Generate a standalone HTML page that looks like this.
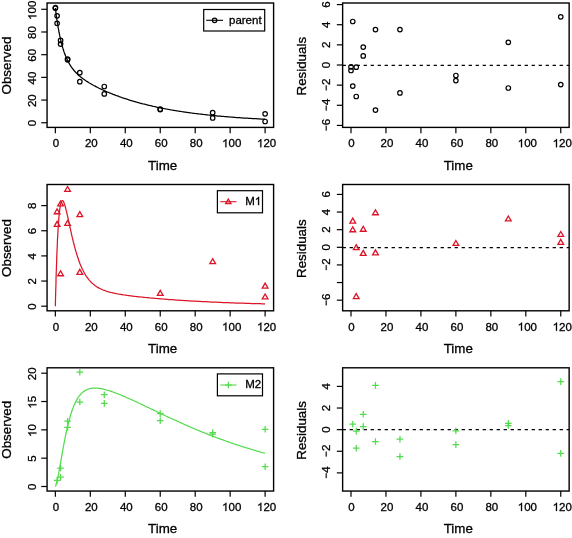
<!DOCTYPE html>
<html><head><meta charset="utf-8"><style>
html,body{margin:0;padding:0;background:#fff;}
svg{display:block;will-change:transform;} text{stroke:#000;stroke-width:0.3px;}
</style></head><body>
<svg width="572" height="538" viewBox="0 0 572 538" font-family="Liberation Sans, sans-serif" fill="#000">
<rect width="572" height="538" fill="#fff"/>
<rect x="47.06" y="3" width="226.54" height="124.4" fill="none" stroke="#000" stroke-width="1.4"/>
<line x1="55.35" y1="127.4" x2="55.35" y2="133.2" stroke="#000" stroke-width="1.2"/>
<g transform="translate(55.86,147.3)"><text x="-3.20" y="0" font-size="11.5">0</text></g>
<line x1="90.31" y1="127.4" x2="90.31" y2="133.2" stroke="#000" stroke-width="1.2"/>
<g transform="translate(91.33,147.3)"><text x="-6.40" y="0" font-size="11.5">20</text></g>
<line x1="125.27" y1="127.4" x2="125.27" y2="133.2" stroke="#000" stroke-width="1.2"/>
<g transform="translate(126.29,147.3)"><text x="-6.40" y="0" font-size="11.5">40</text></g>
<line x1="160.23" y1="127.4" x2="160.23" y2="133.2" stroke="#000" stroke-width="1.2"/>
<g transform="translate(161.25,147.3)"><text x="-6.40" y="0" font-size="11.5">60</text></g>
<line x1="195.19" y1="127.4" x2="195.19" y2="133.2" stroke="#000" stroke-width="1.2"/>
<g transform="translate(196.21,147.3)"><text x="-6.40" y="0" font-size="11.5">80</text></g>
<line x1="230.15" y1="127.4" x2="230.15" y2="133.2" stroke="#000" stroke-width="1.2"/>
<g transform="translate(231.68,147.3)"><path transform="translate(-9.59,0) scale(0.00562,-0.00562)" d="M763 0H583V1147Q518 1085 410 1023Q307 961 213 926V1100Q381 1179 515 1300Q650 1420 704 1466H763Z" stroke="#000" stroke-width="53.4"/><text x="-3.20" y="0" font-size="11.5">00</text></g>
<line x1="265.11" y1="127.4" x2="265.11" y2="133.2" stroke="#000" stroke-width="1.2"/>
<g transform="translate(266.64,147.3)"><path transform="translate(-9.59,0) scale(0.00562,-0.00562)" d="M763 0H583V1147Q518 1085 410 1023Q307 961 213 926V1100Q381 1179 515 1300Q650 1420 704 1466H763Z" stroke="#000" stroke-width="53.4"/><text x="-3.20" y="0" font-size="11.5">20</text></g>
<line x1="41.26" y1="122.75" x2="47.06" y2="122.75" stroke="#000" stroke-width="1.2"/>
<g transform="translate(36.36,123.07) rotate(-90)"><text x="-3.20" y="0" font-size="11.5">0</text></g>
<line x1="41.26" y1="100.06" x2="47.06" y2="100.06" stroke="#000" stroke-width="1.2"/>
<g transform="translate(36.36,100.7) rotate(-90)"><text x="-6.40" y="0" font-size="11.5">20</text></g>
<line x1="41.26" y1="77.37" x2="47.06" y2="77.37" stroke="#000" stroke-width="1.2"/>
<g transform="translate(36.36,78.01) rotate(-90)"><text x="-6.40" y="0" font-size="11.5">40</text></g>
<line x1="41.26" y1="54.68" x2="47.06" y2="54.68" stroke="#000" stroke-width="1.2"/>
<g transform="translate(36.36,55.32) rotate(-90)"><text x="-6.40" y="0" font-size="11.5">60</text></g>
<line x1="41.26" y1="31.99" x2="47.06" y2="31.99" stroke="#000" stroke-width="1.2"/>
<g transform="translate(36.36,32.63) rotate(-90)"><text x="-6.40" y="0" font-size="11.5">80</text></g>
<line x1="41.26" y1="9.3" x2="47.06" y2="9.3" stroke="#000" stroke-width="1.2"/>
<g transform="translate(36.36,10.26) rotate(-90)"><path transform="translate(-9.59,0) scale(0.00562,-0.00562)" d="M763 0H583V1147Q518 1085 410 1023Q307 961 213 926V1100Q381 1179 515 1300Q650 1420 704 1466H763Z" stroke="#000" stroke-width="53.4"/><text x="-3.20" y="0" font-size="11.5">00</text></g>
<text x="162.7" y="169.7" text-anchor="middle" font-size="13.35">Time</text>
<text transform="translate(11.21,65.55) rotate(-90)" text-anchor="middle" font-size="13.35">Observed</text>
<rect x="342.63" y="3" width="226.51" height="124.4" fill="none" stroke="#000" stroke-width="1.4"/>
<line x1="351" y1="127.4" x2="351" y2="133.2" stroke="#000" stroke-width="1.2"/>
<g transform="translate(351.51,147.3)"><text x="-3.20" y="0" font-size="11.5">0</text></g>
<line x1="385.96" y1="127.4" x2="385.96" y2="133.2" stroke="#000" stroke-width="1.2"/>
<g transform="translate(386.98,147.3)"><text x="-6.40" y="0" font-size="11.5">20</text></g>
<line x1="420.92" y1="127.4" x2="420.92" y2="133.2" stroke="#000" stroke-width="1.2"/>
<g transform="translate(421.94,147.3)"><text x="-6.40" y="0" font-size="11.5">40</text></g>
<line x1="455.88" y1="127.4" x2="455.88" y2="133.2" stroke="#000" stroke-width="1.2"/>
<g transform="translate(456.9,147.3)"><text x="-6.40" y="0" font-size="11.5">60</text></g>
<line x1="490.84" y1="127.4" x2="490.84" y2="133.2" stroke="#000" stroke-width="1.2"/>
<g transform="translate(491.86,147.3)"><text x="-6.40" y="0" font-size="11.5">80</text></g>
<line x1="525.8" y1="127.4" x2="525.8" y2="133.2" stroke="#000" stroke-width="1.2"/>
<g transform="translate(527.33,147.3)"><path transform="translate(-9.59,0) scale(0.00562,-0.00562)" d="M763 0H583V1147Q518 1085 410 1023Q307 961 213 926V1100Q381 1179 515 1300Q650 1420 704 1466H763Z" stroke="#000" stroke-width="53.4"/><text x="-3.20" y="0" font-size="11.5">00</text></g>
<line x1="560.76" y1="127.4" x2="560.76" y2="133.2" stroke="#000" stroke-width="1.2"/>
<g transform="translate(562.29,147.3)"><path transform="translate(-9.59,0) scale(0.00562,-0.00562)" d="M763 0H583V1147Q518 1085 410 1023Q307 961 213 926V1100Q381 1179 515 1300Q650 1420 704 1466H763Z" stroke="#000" stroke-width="53.4"/><text x="-3.20" y="0" font-size="11.5">20</text></g>
<line x1="336.83" y1="125.42" x2="342.63" y2="125.42" stroke="#000" stroke-width="1.2"/>
<g transform="translate(330.03,125.42) rotate(-90)"><path transform="translate(-6.56,0) scale(0.00562,-0.00562)" d="M256 608H1096V754H256Z" stroke="#000" stroke-width="53.4"/><text x="0.16" y="0" font-size="11.5">6</text></g>
<line x1="336.83" y1="105.28" x2="342.63" y2="105.28" stroke="#000" stroke-width="1.2"/>
<g transform="translate(330.03,105.28) rotate(-90)"><path transform="translate(-6.56,0) scale(0.00562,-0.00562)" d="M256 608H1096V754H256Z" stroke="#000" stroke-width="53.4"/><text x="0.16" y="0" font-size="11.5">4</text></g>
<line x1="336.83" y1="85.14" x2="342.63" y2="85.14" stroke="#000" stroke-width="1.2"/>
<g transform="translate(330.03,85.14) rotate(-90)"><path transform="translate(-6.56,0) scale(0.00562,-0.00562)" d="M256 608H1096V754H256Z" stroke="#000" stroke-width="53.4"/><text x="0.16" y="0" font-size="11.5">2</text></g>
<line x1="336.83" y1="65" x2="342.63" y2="65" stroke="#000" stroke-width="1.2"/>
<g transform="translate(330.03,65) rotate(-90)"><text x="-3.20" y="0" font-size="11.5">0</text></g>
<line x1="336.83" y1="44.86" x2="342.63" y2="44.86" stroke="#000" stroke-width="1.2"/>
<g transform="translate(330.03,44.86) rotate(-90)"><text x="-3.20" y="0" font-size="11.5">2</text></g>
<line x1="336.83" y1="24.72" x2="342.63" y2="24.72" stroke="#000" stroke-width="1.2"/>
<g transform="translate(330.03,24.72) rotate(-90)"><text x="-3.20" y="0" font-size="11.5">4</text></g>
<line x1="336.83" y1="4.58" x2="342.63" y2="4.58" stroke="#000" stroke-width="1.2"/>
<g transform="translate(330.03,4.58) rotate(-90)"><text x="-3.20" y="0" font-size="11.5">6</text></g>
<text x="458.26" y="169.7" text-anchor="middle" font-size="13.35">Time</text>
<text transform="translate(305.93,66.2) rotate(-90)" text-anchor="middle" font-size="13.35">Residuals</text>
<line x1="342.63" y1="65.35" x2="569.14" y2="65.35" stroke="#000" stroke-width="1.25" stroke-dasharray="3.3 3.7"/>
<rect x="47.06" y="184.5" width="226.54" height="126.3" fill="none" stroke="#000" stroke-width="1.4"/>
<line x1="55.35" y1="310.8" x2="55.35" y2="316.6" stroke="#000" stroke-width="1.2"/>
<g transform="translate(55.86,330.7)"><text x="-3.20" y="0" font-size="11.5">0</text></g>
<line x1="90.31" y1="310.8" x2="90.31" y2="316.6" stroke="#000" stroke-width="1.2"/>
<g transform="translate(91.33,330.7)"><text x="-6.40" y="0" font-size="11.5">20</text></g>
<line x1="125.27" y1="310.8" x2="125.27" y2="316.6" stroke="#000" stroke-width="1.2"/>
<g transform="translate(126.29,330.7)"><text x="-6.40" y="0" font-size="11.5">40</text></g>
<line x1="160.23" y1="310.8" x2="160.23" y2="316.6" stroke="#000" stroke-width="1.2"/>
<g transform="translate(161.25,330.7)"><text x="-6.40" y="0" font-size="11.5">60</text></g>
<line x1="195.19" y1="310.8" x2="195.19" y2="316.6" stroke="#000" stroke-width="1.2"/>
<g transform="translate(196.21,330.7)"><text x="-6.40" y="0" font-size="11.5">80</text></g>
<line x1="230.15" y1="310.8" x2="230.15" y2="316.6" stroke="#000" stroke-width="1.2"/>
<g transform="translate(231.68,330.7)"><path transform="translate(-9.59,0) scale(0.00562,-0.00562)" d="M763 0H583V1147Q518 1085 410 1023Q307 961 213 926V1100Q381 1179 515 1300Q650 1420 704 1466H763Z" stroke="#000" stroke-width="53.4"/><text x="-3.20" y="0" font-size="11.5">00</text></g>
<line x1="265.11" y1="310.8" x2="265.11" y2="316.6" stroke="#000" stroke-width="1.2"/>
<g transform="translate(266.64,330.7)"><path transform="translate(-9.59,0) scale(0.00562,-0.00562)" d="M763 0H583V1147Q518 1085 410 1023Q307 961 213 926V1100Q381 1179 515 1300Q650 1420 704 1466H763Z" stroke="#000" stroke-width="53.4"/><text x="-3.20" y="0" font-size="11.5">20</text></g>
<line x1="41.26" y1="306.2" x2="47.06" y2="306.2" stroke="#000" stroke-width="1.2"/>
<g transform="translate(36.36,306.52) rotate(-90)"><text x="-3.20" y="0" font-size="11.5">0</text></g>
<line x1="41.26" y1="281.05" x2="47.06" y2="281.05" stroke="#000" stroke-width="1.2"/>
<g transform="translate(36.36,281.37) rotate(-90)"><text x="-3.20" y="0" font-size="11.5">2</text></g>
<line x1="41.26" y1="255.9" x2="47.06" y2="255.9" stroke="#000" stroke-width="1.2"/>
<g transform="translate(36.36,256.22) rotate(-90)"><text x="-3.20" y="0" font-size="11.5">4</text></g>
<line x1="41.26" y1="230.75" x2="47.06" y2="230.75" stroke="#000" stroke-width="1.2"/>
<g transform="translate(36.36,231.07) rotate(-90)"><text x="-3.20" y="0" font-size="11.5">6</text></g>
<line x1="41.26" y1="205.6" x2="47.06" y2="205.6" stroke="#000" stroke-width="1.2"/>
<g transform="translate(36.36,205.92) rotate(-90)"><text x="-3.20" y="0" font-size="11.5">8</text></g>
<text x="162.7" y="353.1" text-anchor="middle" font-size="13.35">Time</text>
<text transform="translate(11.21,248) rotate(-90)" text-anchor="middle" font-size="13.35">Observed</text>
<rect x="342.63" y="184.5" width="226.51" height="126.3" fill="none" stroke="#000" stroke-width="1.4"/>
<line x1="351" y1="310.8" x2="351" y2="316.6" stroke="#000" stroke-width="1.2"/>
<g transform="translate(351.51,330.7)"><text x="-3.20" y="0" font-size="11.5">0</text></g>
<line x1="385.96" y1="310.8" x2="385.96" y2="316.6" stroke="#000" stroke-width="1.2"/>
<g transform="translate(386.98,330.7)"><text x="-6.40" y="0" font-size="11.5">20</text></g>
<line x1="420.92" y1="310.8" x2="420.92" y2="316.6" stroke="#000" stroke-width="1.2"/>
<g transform="translate(421.94,330.7)"><text x="-6.40" y="0" font-size="11.5">40</text></g>
<line x1="455.88" y1="310.8" x2="455.88" y2="316.6" stroke="#000" stroke-width="1.2"/>
<g transform="translate(456.9,330.7)"><text x="-6.40" y="0" font-size="11.5">60</text></g>
<line x1="490.84" y1="310.8" x2="490.84" y2="316.6" stroke="#000" stroke-width="1.2"/>
<g transform="translate(491.86,330.7)"><text x="-6.40" y="0" font-size="11.5">80</text></g>
<line x1="525.8" y1="310.8" x2="525.8" y2="316.6" stroke="#000" stroke-width="1.2"/>
<g transform="translate(527.33,330.7)"><path transform="translate(-9.59,0) scale(0.00562,-0.00562)" d="M763 0H583V1147Q518 1085 410 1023Q307 961 213 926V1100Q381 1179 515 1300Q650 1420 704 1466H763Z" stroke="#000" stroke-width="53.4"/><text x="-3.20" y="0" font-size="11.5">00</text></g>
<line x1="560.76" y1="310.8" x2="560.76" y2="316.6" stroke="#000" stroke-width="1.2"/>
<g transform="translate(562.29,330.7)"><path transform="translate(-9.59,0) scale(0.00562,-0.00562)" d="M763 0H583V1147Q518 1085 410 1023Q307 961 213 926V1100Q381 1179 515 1300Q650 1420 704 1466H763Z" stroke="#000" stroke-width="53.4"/><text x="-3.20" y="0" font-size="11.5">20</text></g>
<line x1="336.83" y1="300.18" x2="342.63" y2="300.18" stroke="#000" stroke-width="1.2"/>
<g transform="translate(330.03,300.18) rotate(-90)"><path transform="translate(-6.56,0) scale(0.00562,-0.00562)" d="M256 608H1096V754H256Z" stroke="#000" stroke-width="53.4"/><text x="0.16" y="0" font-size="11.5">6</text></g>
<line x1="336.83" y1="282.55" x2="342.63" y2="282.55" stroke="#000" stroke-width="1.2"/>
<line x1="336.83" y1="264.93" x2="342.63" y2="264.93" stroke="#000" stroke-width="1.2"/>
<g transform="translate(330.03,264.93) rotate(-90)"><path transform="translate(-6.56,0) scale(0.00562,-0.00562)" d="M256 608H1096V754H256Z" stroke="#000" stroke-width="53.4"/><text x="0.16" y="0" font-size="11.5">2</text></g>
<line x1="336.83" y1="247.3" x2="342.63" y2="247.3" stroke="#000" stroke-width="1.2"/>
<g transform="translate(330.03,247.3) rotate(-90)"><text x="-3.20" y="0" font-size="11.5">0</text></g>
<line x1="336.83" y1="229.67" x2="342.63" y2="229.67" stroke="#000" stroke-width="1.2"/>
<g transform="translate(330.03,229.67) rotate(-90)"><text x="-3.20" y="0" font-size="11.5">2</text></g>
<line x1="336.83" y1="212.05" x2="342.63" y2="212.05" stroke="#000" stroke-width="1.2"/>
<g transform="translate(330.03,212.05) rotate(-90)"><text x="-3.20" y="0" font-size="11.5">4</text></g>
<line x1="336.83" y1="194.42" x2="342.63" y2="194.42" stroke="#000" stroke-width="1.2"/>
<g transform="translate(330.03,194.42) rotate(-90)"><text x="-3.20" y="0" font-size="11.5">6</text></g>
<text x="458.26" y="353.1" text-anchor="middle" font-size="13.35">Time</text>
<text transform="translate(305.93,248.65) rotate(-90)" text-anchor="middle" font-size="13.35">Residuals</text>
<line x1="342.63" y1="247.5" x2="569.14" y2="247.5" stroke="#000" stroke-width="1.25" stroke-dasharray="3.3 3.7"/>
<rect x="47.06" y="367.8" width="226.54" height="123.25" fill="none" stroke="#000" stroke-width="1.4"/>
<line x1="55.35" y1="491.05" x2="55.35" y2="496.85" stroke="#000" stroke-width="1.2"/>
<g transform="translate(55.86,510.95)"><text x="-3.20" y="0" font-size="11.5">0</text></g>
<line x1="90.31" y1="491.05" x2="90.31" y2="496.85" stroke="#000" stroke-width="1.2"/>
<g transform="translate(91.33,510.95)"><text x="-6.40" y="0" font-size="11.5">20</text></g>
<line x1="125.27" y1="491.05" x2="125.27" y2="496.85" stroke="#000" stroke-width="1.2"/>
<g transform="translate(126.29,510.95)"><text x="-6.40" y="0" font-size="11.5">40</text></g>
<line x1="160.23" y1="491.05" x2="160.23" y2="496.85" stroke="#000" stroke-width="1.2"/>
<g transform="translate(161.25,510.95)"><text x="-6.40" y="0" font-size="11.5">60</text></g>
<line x1="195.19" y1="491.05" x2="195.19" y2="496.85" stroke="#000" stroke-width="1.2"/>
<g transform="translate(196.21,510.95)"><text x="-6.40" y="0" font-size="11.5">80</text></g>
<line x1="230.15" y1="491.05" x2="230.15" y2="496.85" stroke="#000" stroke-width="1.2"/>
<g transform="translate(231.68,510.95)"><path transform="translate(-9.59,0) scale(0.00562,-0.00562)" d="M763 0H583V1147Q518 1085 410 1023Q307 961 213 926V1100Q381 1179 515 1300Q650 1420 704 1466H763Z" stroke="#000" stroke-width="53.4"/><text x="-3.20" y="0" font-size="11.5">00</text></g>
<line x1="265.11" y1="491.05" x2="265.11" y2="496.85" stroke="#000" stroke-width="1.2"/>
<g transform="translate(266.64,510.95)"><path transform="translate(-9.59,0) scale(0.00562,-0.00562)" d="M763 0H583V1147Q518 1085 410 1023Q307 961 213 926V1100Q381 1179 515 1300Q650 1420 704 1466H763Z" stroke="#000" stroke-width="53.4"/><text x="-3.20" y="0" font-size="11.5">20</text></g>
<line x1="41.26" y1="486.5" x2="47.06" y2="486.5" stroke="#000" stroke-width="1.2"/>
<g transform="translate(36.36,486.82) rotate(-90)"><text x="-3.20" y="0" font-size="11.5">0</text></g>
<line x1="41.26" y1="458.18" x2="47.06" y2="458.18" stroke="#000" stroke-width="1.2"/>
<g transform="translate(36.36,458.49) rotate(-90)"><text x="-3.20" y="0" font-size="11.5">5</text></g>
<line x1="41.26" y1="429.85" x2="47.06" y2="429.85" stroke="#000" stroke-width="1.2"/>
<g transform="translate(36.36,430.49) rotate(-90)"><path transform="translate(-6.40,0) scale(0.00562,-0.00562)" d="M763 0H583V1147Q518 1085 410 1023Q307 961 213 926V1100Q381 1179 515 1300Q650 1420 704 1466H763Z" stroke="#000" stroke-width="53.4"/><text x="0.00" y="0" font-size="11.5">0</text></g>
<line x1="41.26" y1="401.52" x2="47.06" y2="401.52" stroke="#000" stroke-width="1.2"/>
<g transform="translate(36.36,402.16) rotate(-90)"><path transform="translate(-6.40,0) scale(0.00562,-0.00562)" d="M763 0H583V1147Q518 1085 410 1023Q307 961 213 926V1100Q381 1179 515 1300Q650 1420 704 1466H763Z" stroke="#000" stroke-width="53.4"/><text x="0.00" y="0" font-size="11.5">5</text></g>
<line x1="41.26" y1="373.2" x2="47.06" y2="373.2" stroke="#000" stroke-width="1.2"/>
<g transform="translate(36.36,373.84) rotate(-90)"><text x="-6.40" y="0" font-size="11.5">20</text></g>
<text x="162.7" y="533.35" text-anchor="middle" font-size="13.35">Time</text>
<text transform="translate(11.21,429.78) rotate(-90)" text-anchor="middle" font-size="13.35">Observed</text>
<rect x="342.63" y="367.8" width="226.51" height="123.25" fill="none" stroke="#000" stroke-width="1.4"/>
<line x1="351" y1="491.05" x2="351" y2="496.85" stroke="#000" stroke-width="1.2"/>
<g transform="translate(351.51,510.95)"><text x="-3.20" y="0" font-size="11.5">0</text></g>
<line x1="385.96" y1="491.05" x2="385.96" y2="496.85" stroke="#000" stroke-width="1.2"/>
<g transform="translate(386.98,510.95)"><text x="-6.40" y="0" font-size="11.5">20</text></g>
<line x1="420.92" y1="491.05" x2="420.92" y2="496.85" stroke="#000" stroke-width="1.2"/>
<g transform="translate(421.94,510.95)"><text x="-6.40" y="0" font-size="11.5">40</text></g>
<line x1="455.88" y1="491.05" x2="455.88" y2="496.85" stroke="#000" stroke-width="1.2"/>
<g transform="translate(456.9,510.95)"><text x="-6.40" y="0" font-size="11.5">60</text></g>
<line x1="490.84" y1="491.05" x2="490.84" y2="496.85" stroke="#000" stroke-width="1.2"/>
<g transform="translate(491.86,510.95)"><text x="-6.40" y="0" font-size="11.5">80</text></g>
<line x1="525.8" y1="491.05" x2="525.8" y2="496.85" stroke="#000" stroke-width="1.2"/>
<g transform="translate(527.33,510.95)"><path transform="translate(-9.59,0) scale(0.00562,-0.00562)" d="M763 0H583V1147Q518 1085 410 1023Q307 961 213 926V1100Q381 1179 515 1300Q650 1420 704 1466H763Z" stroke="#000" stroke-width="53.4"/><text x="-3.20" y="0" font-size="11.5">00</text></g>
<line x1="560.76" y1="491.05" x2="560.76" y2="496.85" stroke="#000" stroke-width="1.2"/>
<g transform="translate(562.29,510.95)"><path transform="translate(-9.59,0) scale(0.00562,-0.00562)" d="M763 0H583V1147Q518 1085 410 1023Q307 961 213 926V1100Q381 1179 515 1300Q650 1420 704 1466H763Z" stroke="#000" stroke-width="53.4"/><text x="-3.20" y="0" font-size="11.5">20</text></g>
<line x1="336.83" y1="472.89" x2="342.63" y2="472.89" stroke="#000" stroke-width="1.2"/>
<g transform="translate(330.03,472.89) rotate(-90)"><path transform="translate(-6.56,0) scale(0.00562,-0.00562)" d="M256 608H1096V754H256Z" stroke="#000" stroke-width="53.4"/><text x="0.16" y="0" font-size="11.5">4</text></g>
<line x1="336.83" y1="451.27" x2="342.63" y2="451.27" stroke="#000" stroke-width="1.2"/>
<g transform="translate(330.03,451.27) rotate(-90)"><path transform="translate(-6.56,0) scale(0.00562,-0.00562)" d="M256 608H1096V754H256Z" stroke="#000" stroke-width="53.4"/><text x="0.16" y="0" font-size="11.5">2</text></g>
<line x1="336.83" y1="429.65" x2="342.63" y2="429.65" stroke="#000" stroke-width="1.2"/>
<g transform="translate(330.03,429.65) rotate(-90)"><text x="-3.20" y="0" font-size="11.5">0</text></g>
<line x1="336.83" y1="408.03" x2="342.63" y2="408.03" stroke="#000" stroke-width="1.2"/>
<g transform="translate(330.03,408.03) rotate(-90)"><text x="-3.20" y="0" font-size="11.5">2</text></g>
<line x1="336.83" y1="386.41" x2="342.63" y2="386.41" stroke="#000" stroke-width="1.2"/>
<g transform="translate(330.03,386.41) rotate(-90)"><text x="-3.20" y="0" font-size="11.5">4</text></g>
<text x="458.26" y="533.35" text-anchor="middle" font-size="13.35">Time</text>
<text transform="translate(305.93,430.43) rotate(-90)" text-anchor="middle" font-size="13.35">Residuals</text>
<line x1="342.63" y1="429.5" x2="569.14" y2="429.5" stroke="#000" stroke-width="1.25" stroke-dasharray="3.3 3.7"/>
<path d="M55.4 7.9 L55.4 8.7 L55.5 9.4 L55.6 10.1 L55.7 10.8 L55.8 11.4 L55.9 12.1 L56.0 12.8 L56.0 13.4 L56.1 14.1 L56.2 14.7 L56.3 15.4 L56.4 16.0 L56.5 16.6 L56.6 17.3 L56.7 17.9 L56.7 18.5 L56.8 19.1 L56.9 19.7 L57.0 20.2 L57.1 20.8 L57.2 21.4 L57.3 22.0 L57.4 22.5 L57.4 23.1 L57.5 23.6 L57.6 24.2 L57.7 24.7 L57.8 25.2 L57.9 25.8 L58.0 26.3 L58.1 26.8 L58.1 27.3 L58.2 27.8 L58.3 28.3 L58.4 28.8 L58.5 29.3 L58.6 29.8 L58.7 30.2 L58.8 30.7 L58.8 31.2 L58.9 31.6 L59.0 32.1 L59.1 32.5 L59.2 33.0 L59.3 33.4 L59.4 33.9 L59.5 34.3 L59.5 34.7 L59.6 35.2 L59.7 35.6 L59.8 36.0 L59.9 36.4 L60.0 36.8 L60.1 37.2 L60.2 37.6 L60.2 38.0 L60.3 38.4 L60.4 38.8 L60.5 39.2 L60.6 39.5 L60.7 39.9 L60.8 40.3 L60.9 40.7 L60.9 41.0 L61.0 41.4 L61.1 41.7 L61.2 42.1 L61.3 42.4 L61.4 42.8 L61.5 43.1 L61.6 43.5 L61.6 43.8 L61.7 44.1 L61.8 44.5 L61.9 44.8 L62.0 45.1 L62.1 45.4 L62.2 45.7 L62.3 46.1 L62.3 46.4 L62.4 46.7 L62.5 47.0 L62.6 47.3 L62.7 47.6 L62.8 47.9 L62.9 48.2 L63.0 48.4 L63.0 48.7 L63.1 49.0 L63.2 49.3 L63.3 49.6 L63.4 49.8 L63.5 50.1 L63.6 50.4 L63.7 50.7 L63.7 50.9 L63.8 51.2 L63.9 51.4 L64.0 51.7 L64.1 52.0 L64.2 52.2 L64.3 52.5 L64.4 52.7 L64.4 53.0 L64.5 53.2 L64.6 53.4 L64.7 53.7 L64.8 53.9 L64.9 54.1 L65.0 54.4 L65.1 54.6 L65.1 54.8 L65.2 55.1 L65.3 55.3 L65.4 55.5 L65.5 55.7 L65.6 55.9 L65.7 56.2 L65.8 56.4 L65.8 56.6 L65.9 56.8 L66.0 57.0 L66.1 57.2 L66.2 57.4 L66.3 57.6 L66.4 57.8 L66.4 58.0 L66.5 58.2 L66.6 58.4 L66.7 58.6 L66.8 58.8 L66.9 59.0 L67.0 59.2 L67.1 59.4 L67.1 59.6 L67.2 59.7 L67.3 59.9 L67.4 60.1 L67.5 60.3 L67.6 60.5 L67.7 60.6 L67.8 60.8 L67.8 61.0 L67.9 61.2 L68.0 61.3 L68.1 61.5 L68.2 61.7 L68.3 61.8 L68.4 62.0 L68.5 62.2 L68.5 62.3 L68.6 62.5 L68.7 62.7 L68.8 62.8 L68.9 63.0 L69.0 63.1 L69.1 63.3 L69.2 63.4 L69.2 63.6 L69.3 63.7 L69.4 63.9 L69.5 64.0 L69.6 64.2 L69.7 64.3 L69.8 64.5 L69.9 64.6 L69.9 64.8 L70.0 64.9 L70.1 65.1 L70.2 65.2 L70.3 65.3 L70.4 65.5 L70.5 65.6 L70.6 65.8 L70.6 65.9 L70.7 66.0 L70.8 66.2 L70.9 66.3 L71.0 66.4 L71.1 66.6 L71.2 66.7 L71.3 66.8 L71.3 66.9 L71.4 67.1 L71.5 67.2 L71.6 67.3 L71.7 67.4 L71.8 67.6 L71.9 67.7 L72.0 67.8 L72.0 67.9 L72.1 68.0 L72.2 68.2 L72.3 68.3 L72.4 68.4 L72.5 68.5 L72.6 68.6 L72.7 68.8 L72.7 68.9 L72.8 69.0 L72.9 69.1 L73.0 69.2 L73.1 69.3 L73.2 69.4 L73.3 69.5 L73.4 69.6 L73.4 69.8 L73.5 69.9 L73.6 70.0 L73.7 70.1 L73.8 70.2 L73.9 70.3 L74.0 70.4 L74.1 70.5 L74.1 70.6 L74.2 70.7 L74.3 70.8 L74.4 70.9 L74.5 71.0 L74.6 71.1 L74.7 71.2 L74.8 71.3 L74.8 71.4 L74.9 71.5 L75.0 71.6 L75.1 71.7 L75.2 71.8 L75.3 71.9 L75.4 72.0 L75.5 72.1 L75.5 72.2 L75.6 72.3 L75.7 72.4 L75.8 72.5 L75.9 72.6 L76.0 72.6 L76.1 72.7 L76.2 72.8 L76.2 72.9 L76.3 73.0 L77.2 73.9 L78.1 74.7 L78.9 75.5 L79.8 76.3 L80.7 77.0 L81.6 77.7 L82.4 78.3 L83.3 79.0 L84.2 79.6 L85.1 80.2 L85.9 80.8 L86.8 81.4 L87.7 81.9 L88.6 82.5 L89.4 83.0 L90.3 83.5 L91.2 84.0 L92.1 84.5 L92.9 85.0 L93.8 85.5 L94.7 85.9 L95.6 86.4 L96.4 86.9 L97.3 87.3 L98.2 87.7 L99.1 88.2 L99.9 88.6 L100.8 89.0 L101.7 89.4 L102.5 89.8 L103.4 90.2 L104.3 90.6 L105.2 91.0 L106.0 91.4 L106.9 91.8 L107.8 92.1 L108.7 92.5 L109.5 92.9 L110.4 93.2 L111.3 93.6 L112.2 93.9 L113.0 94.3 L113.9 94.6 L114.8 94.9 L115.7 95.3 L116.5 95.6 L117.4 95.9 L118.3 96.2 L119.2 96.6 L120.0 96.9 L120.9 97.2 L121.8 97.5 L122.6 97.8 L123.5 98.1 L124.4 98.4 L125.3 98.7 L126.1 98.9 L127.0 99.2 L127.9 99.5 L128.8 99.8 L129.6 100.1 L130.5 100.3 L131.4 100.6 L132.3 100.9 L133.1 101.1 L134.0 101.4 L134.9 101.6 L135.8 101.9 L136.6 102.1 L137.5 102.4 L138.4 102.6 L139.3 102.9 L140.1 103.1 L141.0 103.3 L141.9 103.6 L142.8 103.8 L143.6 104.0 L144.5 104.2 L145.4 104.4 L146.2 104.7 L147.1 104.9 L148.0 105.1 L148.9 105.3 L149.7 105.5 L150.6 105.7 L151.5 105.9 L152.4 106.1 L153.2 106.3 L154.1 106.5 L155.0 106.7 L155.9 106.9 L156.7 107.1 L157.6 107.3 L158.5 107.5 L159.4 107.6 L160.2 107.8 L161.1 108.0 L162.0 108.2 L162.9 108.3 L163.7 108.5 L164.6 108.7 L165.5 108.8 L166.3 109.0 L167.2 109.2 L168.1 109.3 L169.0 109.5 L169.8 109.7 L170.7 109.8 L171.6 110.0 L172.5 110.1 L173.3 110.3 L174.2 110.4 L175.1 110.6 L176.0 110.7 L176.8 110.8 L177.7 111.0 L178.6 111.1 L179.5 111.3 L180.3 111.4 L181.2 111.5 L182.1 111.7 L183.0 111.8 L183.8 111.9 L184.7 112.1 L185.6 112.2 L186.4 112.3 L187.3 112.4 L188.2 112.6 L189.1 112.7 L189.9 112.8 L190.8 112.9 L191.7 113.0 L192.6 113.2 L193.4 113.3 L194.3 113.4 L195.2 113.5 L196.1 113.6 L196.9 113.7 L197.8 113.8 L198.7 113.9 L199.6 114.0 L200.4 114.1 L201.3 114.2 L202.2 114.3 L203.1 114.4 L203.9 114.5 L204.8 114.6 L205.7 114.7 L206.6 114.8 L207.4 114.9 L208.3 115.0 L209.2 115.1 L210.0 115.2 L210.9 115.3 L211.8 115.4 L212.7 115.5 L213.5 115.5 L214.4 115.6 L215.3 115.7 L216.2 115.8 L217.0 115.9 L217.9 116.0 L218.8 116.0 L219.7 116.1 L220.5 116.2 L221.4 116.3 L222.3 116.4 L223.2 116.4 L224.0 116.5 L224.9 116.6 L225.8 116.7 L226.7 116.7 L227.5 116.8 L228.4 116.9 L229.3 116.9 L230.2 117.0 L231.0 117.1 L231.9 117.1 L232.8 117.2 L233.6 117.3 L234.5 117.3 L235.4 117.4 L236.3 117.5 L237.1 117.5 L238.0 117.6 L238.9 117.7 L239.8 117.7 L240.6 117.8 L241.5 117.8 L242.4 117.9 L243.3 118.0 L244.1 118.0 L245.0 118.1 L245.9 118.1 L246.8 118.2 L247.6 118.2 L248.5 118.3 L249.4 118.3 L250.3 118.4 L251.1 118.4 L252.0 118.5 L252.9 118.5 L253.7 118.6 L254.6 118.6 L255.5 118.7 L256.4 118.7 L257.2 118.8 L258.1 118.8 L259.0 118.9 L259.9 118.9 L260.7 119.0 L261.6 119.0 L262.5 119.1 L263.4 119.1 L264.2 119.1 L265.1 119.2" fill="none" stroke="#000" stroke-width="1.25"/>
<path d="M55.4 306.2 L55.4 302.5 L55.5 298.9 L55.6 295.5 L55.7 292.1 L55.8 288.8 L55.9 285.6 L56.0 282.4 L56.0 279.4 L56.1 276.4 L56.2 273.6 L56.3 270.8 L56.4 268.1 L56.5 265.5 L56.6 262.9 L56.7 260.4 L56.7 258.0 L56.8 255.7 L56.9 253.4 L57.0 251.2 L57.1 249.1 L57.2 247.0 L57.3 245.0 L57.4 243.1 L57.4 241.2 L57.5 239.4 L57.6 237.6 L57.7 235.9 L57.8 234.3 L57.9 232.7 L58.0 231.1 L58.1 229.6 L58.1 228.2 L58.2 226.8 L58.3 225.5 L58.4 224.2 L58.5 222.9 L58.6 221.7 L58.7 220.6 L58.8 219.4 L58.8 218.4 L58.9 217.3 L59.0 216.3 L59.1 215.4 L59.2 214.5 L59.3 213.6 L59.4 212.7 L59.5 211.9 L59.5 211.2 L59.6 210.4 L59.7 209.7 L59.8 209.1 L59.9 208.4 L60.0 207.8 L60.1 207.2 L60.2 206.7 L60.2 206.2 L60.3 205.7 L60.4 205.2 L60.5 204.8 L60.6 204.3 L60.7 203.9 L60.8 203.6 L60.9 203.2 L60.9 202.9 L61.0 202.6 L61.1 202.4 L61.2 202.1 L61.3 201.9 L61.4 201.7 L61.5 201.5 L61.6 201.3 L61.6 201.2 L61.7 201.0 L61.8 200.9 L61.9 200.8 L62.0 200.8 L62.1 200.7 L62.2 200.7 L62.3 200.6 L62.3 200.6 L62.4 200.6 L62.5 200.6 L62.6 200.7 L62.7 200.7 L62.8 200.8 L62.9 200.8 L63.0 200.9 L63.0 201.0 L63.1 201.1 L63.2 201.2 L63.3 201.4 L63.4 201.5 L63.5 201.7 L63.6 201.8 L63.7 202.0 L63.7 202.2 L63.8 202.4 L63.9 202.6 L64.0 202.8 L64.1 203.0 L64.2 203.2 L64.3 203.5 L64.4 203.7 L64.4 204.0 L64.5 204.2 L64.6 204.5 L64.7 204.7 L64.8 205.0 L64.9 205.3 L65.0 205.6 L65.1 205.9 L65.1 206.2 L65.2 206.5 L65.3 206.8 L65.4 207.1 L65.5 207.4 L65.6 207.8 L65.7 208.1 L65.8 208.4 L65.8 208.8 L65.9 209.1 L66.0 209.5 L66.1 209.8 L66.2 210.2 L66.3 210.5 L66.4 210.9 L66.4 211.3 L66.5 211.6 L66.6 212.0 L66.7 212.4 L66.8 212.7 L66.9 213.1 L67.0 213.5 L67.1 213.9 L67.1 214.3 L67.2 214.7 L67.3 215.0 L67.4 215.4 L67.5 215.8 L67.6 216.2 L67.7 216.6 L67.8 217.0 L67.8 217.4 L67.9 217.8 L68.0 218.2 L68.1 218.6 L68.2 219.0 L68.3 219.4 L68.4 219.8 L68.5 220.2 L68.5 220.6 L68.6 221.0 L68.7 221.4 L68.8 221.8 L68.9 222.2 L69.0 222.6 L69.1 223.0 L69.2 223.4 L69.2 223.8 L69.3 224.2 L69.4 224.6 L69.5 225.0 L69.6 225.5 L69.7 225.9 L69.8 226.3 L69.9 226.7 L69.9 227.1 L70.0 227.5 L70.1 227.9 L70.2 228.3 L70.3 228.7 L70.4 229.1 L70.5 229.4 L70.6 229.8 L70.6 230.2 L70.7 230.6 L70.8 231.0 L70.9 231.4 L71.0 231.8 L71.1 232.2 L71.2 232.6 L71.3 233.0 L71.3 233.4 L71.4 233.7 L71.5 234.1 L71.6 234.5 L71.7 234.9 L71.8 235.3 L71.9 235.7 L72.0 236.0 L72.0 236.4 L72.1 236.8 L72.2 237.2 L72.3 237.5 L72.4 237.9 L72.5 238.3 L72.6 238.6 L72.7 239.0 L72.7 239.4 L72.8 239.7 L72.9 240.1 L73.0 240.4 L73.1 240.8 L73.2 241.2 L73.3 241.5 L73.4 241.9 L73.4 242.2 L73.5 242.6 L73.6 242.9 L73.7 243.3 L73.8 243.6 L73.9 243.9 L74.0 244.3 L74.1 244.6 L74.1 245.0 L74.2 245.3 L74.3 245.6 L74.4 246.0 L74.5 246.3 L74.6 246.6 L74.7 247.0 L74.8 247.3 L74.8 247.6 L74.9 247.9 L75.0 248.2 L75.1 248.6 L75.2 248.9 L75.3 249.2 L75.4 249.5 L75.5 249.8 L75.5 250.1 L75.6 250.4 L75.7 250.7 L75.8 251.0 L75.9 251.3 L76.0 251.7 L76.1 251.9 L76.2 252.2 L76.2 252.5 L76.3 252.8 L77.2 255.7 L78.1 258.3 L78.9 260.8 L79.8 263.2 L80.7 265.4 L81.6 267.4 L82.4 269.3 L83.3 271.0 L84.2 272.7 L85.1 274.2 L85.9 275.6 L86.8 276.9 L87.7 278.1 L88.6 279.3 L89.4 280.3 L90.3 281.3 L91.2 282.2 L92.1 283.1 L92.9 283.9 L93.8 284.6 L94.7 285.3 L95.6 285.9 L96.4 286.5 L97.3 287.1 L98.2 287.6 L99.1 288.1 L99.9 288.5 L100.8 288.9 L101.7 289.3 L102.5 289.7 L103.4 290.1 L104.3 290.4 L105.2 290.7 L106.0 291.0 L106.9 291.3 L107.8 291.6 L108.7 291.8 L109.5 292.1 L110.4 292.3 L111.3 292.5 L112.2 292.7 L113.0 292.9 L113.9 293.1 L114.8 293.3 L115.7 293.5 L116.5 293.7 L117.4 293.8 L118.3 294.0 L119.2 294.2 L120.0 294.3 L120.9 294.4 L121.8 294.6 L122.6 294.7 L123.5 294.9 L124.4 295.0 L125.3 295.1 L126.1 295.2 L127.0 295.4 L127.9 295.5 L128.8 295.6 L129.6 295.7 L130.5 295.8 L131.4 295.9 L132.3 296.1 L133.1 296.2 L134.0 296.3 L134.9 296.4 L135.8 296.5 L136.6 296.6 L137.5 296.7 L138.4 296.8 L139.3 296.9 L140.1 296.9 L141.0 297.0 L141.9 297.1 L142.8 297.2 L143.6 297.3 L144.5 297.4 L145.4 297.5 L146.2 297.6 L147.1 297.6 L148.0 297.7 L148.9 297.8 L149.7 297.9 L150.6 298.0 L151.5 298.1 L152.4 298.1 L153.2 298.2 L154.1 298.3 L155.0 298.4 L155.9 298.4 L156.7 298.5 L157.6 298.6 L158.5 298.7 L159.4 298.7 L160.2 298.8 L161.1 298.9 L162.0 298.9 L162.9 299.0 L163.7 299.1 L164.6 299.2 L165.5 299.2 L166.3 299.3 L167.2 299.4 L168.1 299.4 L169.0 299.5 L169.8 299.5 L170.7 299.6 L171.6 299.7 L172.5 299.7 L173.3 299.8 L174.2 299.9 L175.1 299.9 L176.0 300.0 L176.8 300.0 L177.7 300.1 L178.6 300.2 L179.5 300.2 L180.3 300.3 L181.2 300.3 L182.1 300.4 L183.0 300.4 L183.8 300.5 L184.7 300.5 L185.6 300.6 L186.4 300.7 L187.3 300.7 L188.2 300.8 L189.1 300.8 L189.9 300.9 L190.8 300.9 L191.7 301.0 L192.6 301.0 L193.4 301.1 L194.3 301.1 L195.2 301.2 L196.1 301.2 L196.9 301.3 L197.8 301.3 L198.7 301.3 L199.6 301.4 L200.4 301.4 L201.3 301.5 L202.2 301.5 L203.1 301.6 L203.9 301.6 L204.8 301.7 L205.7 301.7 L206.6 301.7 L207.4 301.8 L208.3 301.8 L209.2 301.9 L210.0 301.9 L210.9 302.0 L211.8 302.0 L212.7 302.0 L213.5 302.1 L214.4 302.1 L215.3 302.2 L216.2 302.2 L217.0 302.2 L217.9 302.3 L218.8 302.3 L219.7 302.3 L220.5 302.4 L221.4 302.4 L222.3 302.5 L223.2 302.5 L224.0 302.5 L224.9 302.6 L225.8 302.6 L226.7 302.6 L227.5 302.7 L228.4 302.7 L229.3 302.7 L230.2 302.8 L231.0 302.8 L231.9 302.8 L232.8 302.9 L233.6 302.9 L234.5 302.9 L235.4 303.0 L236.3 303.0 L237.1 303.0 L238.0 303.0 L238.9 303.1 L239.8 303.1 L240.6 303.1 L241.5 303.2 L242.4 303.2 L243.3 303.2 L244.1 303.2 L245.0 303.3 L245.9 303.3 L246.8 303.3 L247.6 303.4 L248.5 303.4 L249.4 303.4 L250.3 303.4 L251.1 303.5 L252.0 303.5 L252.9 303.5 L253.7 303.5 L254.6 303.6 L255.5 303.6 L256.4 303.6 L257.2 303.6 L258.1 303.7 L259.0 303.7 L259.9 303.7 L260.7 303.7 L261.6 303.8 L262.5 303.8 L263.4 303.8 L264.2 303.8 L265.1 303.9" fill="none" stroke="#dc1428" stroke-width="1.25"/>
<path d="M55.4 486.5 L55.4 486.3 L55.5 486.2 L55.6 486.0 L55.7 485.8 L55.8 485.5 L55.9 485.3 L56.0 485.1 L56.0 484.8 L56.1 484.6 L56.2 484.3 L56.3 484.0 L56.4 483.7 L56.5 483.4 L56.6 483.1 L56.7 482.8 L56.7 482.4 L56.8 482.1 L56.9 481.7 L57.0 481.4 L57.1 481.0 L57.2 480.6 L57.3 480.3 L57.4 479.9 L57.4 479.5 L57.5 479.1 L57.6 478.7 L57.7 478.3 L57.8 477.8 L57.9 477.4 L58.0 477.0 L58.1 476.6 L58.1 476.1 L58.2 475.7 L58.3 475.2 L58.4 474.8 L58.5 474.3 L58.6 473.9 L58.7 473.4 L58.8 472.9 L58.8 472.5 L58.9 472.0 L59.0 471.5 L59.1 471.0 L59.2 470.5 L59.3 470.1 L59.4 469.6 L59.5 469.1 L59.5 468.6 L59.6 468.1 L59.7 467.6 L59.8 467.1 L59.9 466.6 L60.0 466.1 L60.1 465.6 L60.2 465.1 L60.2 464.6 L60.3 464.1 L60.4 463.6 L60.5 463.1 L60.6 462.6 L60.7 462.1 L60.8 461.6 L60.9 461.1 L60.9 460.6 L61.0 460.1 L61.1 459.6 L61.2 459.1 L61.3 458.6 L61.4 458.1 L61.5 457.6 L61.6 457.1 L61.6 456.6 L61.7 456.1 L61.8 455.6 L61.9 455.1 L62.0 454.6 L62.1 454.1 L62.2 453.6 L62.3 453.1 L62.3 452.6 L62.4 452.1 L62.5 451.6 L62.6 451.1 L62.7 450.6 L62.8 450.1 L62.9 449.6 L63.0 449.2 L63.0 448.7 L63.1 448.2 L63.2 447.7 L63.3 447.2 L63.4 446.7 L63.5 446.3 L63.6 445.8 L63.7 445.3 L63.7 444.9 L63.8 444.4 L63.9 443.9 L64.0 443.5 L64.1 443.0 L64.2 442.5 L64.3 442.1 L64.4 441.6 L64.4 441.2 L64.5 440.7 L64.6 440.3 L64.7 439.8 L64.8 439.4 L64.9 438.9 L65.0 438.5 L65.1 438.0 L65.1 437.6 L65.2 437.2 L65.3 436.7 L65.4 436.3 L65.5 435.9 L65.6 435.5 L65.7 435.0 L65.8 434.6 L65.8 434.2 L65.9 433.8 L66.0 433.4 L66.1 433.0 L66.2 432.5 L66.3 432.1 L66.4 431.7 L66.4 431.3 L66.5 430.9 L66.6 430.5 L66.7 430.1 L66.8 429.7 L66.9 429.4 L67.0 429.0 L67.1 428.6 L67.1 428.2 L67.2 427.8 L67.3 427.4 L67.4 427.1 L67.5 426.7 L67.6 426.3 L67.7 426.0 L67.8 425.6 L67.8 425.2 L67.9 424.9 L68.0 424.5 L68.1 424.2 L68.2 423.8 L68.3 423.5 L68.4 423.1 L68.5 422.8 L68.5 422.4 L68.6 422.1 L68.7 421.7 L68.8 421.4 L68.9 421.1 L69.0 420.7 L69.1 420.4 L69.2 420.1 L69.2 419.8 L69.3 419.4 L69.4 419.1 L69.5 418.8 L69.6 418.5 L69.7 418.2 L69.8 417.9 L69.9 417.6 L69.9 417.3 L70.0 417.0 L70.1 416.7 L70.2 416.4 L70.3 416.1 L70.4 415.8 L70.5 415.5 L70.6 415.2 L70.6 414.9 L70.7 414.6 L70.8 414.3 L70.9 414.1 L71.0 413.8 L71.1 413.5 L71.2 413.2 L71.3 413.0 L71.3 412.7 L71.4 412.4 L71.5 412.2 L71.6 411.9 L71.7 411.6 L71.8 411.4 L71.9 411.1 L72.0 410.9 L72.0 410.6 L72.1 410.4 L72.2 410.1 L72.3 409.9 L72.4 409.6 L72.5 409.4 L72.6 409.2 L72.7 408.9 L72.7 408.7 L72.8 408.5 L72.9 408.2 L73.0 408.0 L73.1 407.8 L73.2 407.5 L73.3 407.3 L73.4 407.1 L73.4 406.9 L73.5 406.7 L73.6 406.4 L73.7 406.2 L73.8 406.0 L73.9 405.8 L74.0 405.6 L74.1 405.4 L74.1 405.2 L74.2 405.0 L74.3 404.8 L74.4 404.6 L74.5 404.4 L74.6 404.2 L74.7 404.0 L74.8 403.8 L74.8 403.6 L74.9 403.4 L75.0 403.2 L75.1 403.1 L75.2 402.9 L75.3 402.7 L75.4 402.5 L75.5 402.3 L75.5 402.2 L75.6 402.0 L75.7 401.8 L75.8 401.6 L75.9 401.5 L76.0 401.3 L76.1 401.1 L76.2 401.0 L76.2 400.8 L76.3 400.6 L77.2 399.1 L78.1 397.7 L78.9 396.4 L79.8 395.3 L80.7 394.3 L81.6 393.4 L82.4 392.5 L83.3 391.8 L84.2 391.2 L85.1 390.6 L85.9 390.1 L86.8 389.7 L87.7 389.3 L88.6 389.0 L89.4 388.7 L90.3 388.5 L91.2 388.3 L92.1 388.2 L92.9 388.1 L93.8 388.1 L94.7 388.0 L95.6 388.0 L96.4 388.1 L97.3 388.1 L98.2 388.2 L99.1 388.3 L99.9 388.4 L100.8 388.6 L101.7 388.7 L102.5 388.9 L103.4 389.1 L104.3 389.3 L105.2 389.5 L106.0 389.8 L106.9 390.0 L107.8 390.3 L108.7 390.5 L109.5 390.8 L110.4 391.1 L111.3 391.4 L112.2 391.7 L113.0 392.0 L113.9 392.3 L114.8 392.6 L115.7 393.0 L116.5 393.3 L117.4 393.6 L118.3 394.0 L119.2 394.3 L120.0 394.7 L120.9 395.0 L121.8 395.4 L122.6 395.8 L123.5 396.1 L124.4 396.5 L125.3 396.9 L126.1 397.3 L127.0 397.7 L127.9 398.1 L128.8 398.4 L129.6 398.8 L130.5 399.2 L131.4 399.6 L132.3 400.0 L133.1 400.4 L134.0 400.8 L134.9 401.2 L135.8 401.6 L136.6 402.0 L137.5 402.5 L138.4 402.9 L139.3 403.3 L140.1 403.7 L141.0 404.1 L141.9 404.5 L142.8 404.9 L143.6 405.3 L144.5 405.8 L145.4 406.2 L146.2 406.6 L147.1 407.0 L148.0 407.4 L148.9 407.8 L149.7 408.3 L150.6 408.7 L151.5 409.1 L152.4 409.5 L153.2 409.9 L154.1 410.4 L155.0 410.8 L155.9 411.2 L156.7 411.6 L157.6 412.0 L158.5 412.4 L159.4 412.9 L160.2 413.3 L161.1 413.7 L162.0 414.1 L162.9 414.5 L163.7 414.9 L164.6 415.3 L165.5 415.8 L166.3 416.2 L167.2 416.6 L168.1 417.0 L169.0 417.4 L169.8 417.8 L170.7 418.2 L171.6 418.6 L172.5 419.0 L173.3 419.4 L174.2 419.8 L175.1 420.2 L176.0 420.6 L176.8 421.0 L177.7 421.4 L178.6 421.8 L179.5 422.2 L180.3 422.6 L181.2 423.0 L182.1 423.4 L183.0 423.8 L183.8 424.2 L184.7 424.6 L185.6 424.9 L186.4 425.3 L187.3 425.7 L188.2 426.1 L189.1 426.5 L189.9 426.8 L190.8 427.2 L191.7 427.6 L192.6 428.0 L193.4 428.3 L194.3 428.7 L195.2 429.1 L196.1 429.5 L196.9 429.8 L197.8 430.2 L198.7 430.6 L199.6 430.9 L200.4 431.3 L201.3 431.6 L202.2 432.0 L203.1 432.3 L203.9 432.7 L204.8 433.0 L205.7 433.4 L206.6 433.7 L207.4 434.1 L208.3 434.4 L209.2 434.8 L210.0 435.1 L210.9 435.5 L211.8 435.8 L212.7 436.1 L213.5 436.5 L214.4 436.8 L215.3 437.1 L216.2 437.5 L217.0 437.8 L217.9 438.1 L218.8 438.4 L219.7 438.8 L220.5 439.1 L221.4 439.4 L222.3 439.7 L223.2 440.0 L224.0 440.4 L224.9 440.7 L225.8 441.0 L226.7 441.3 L227.5 441.6 L228.4 441.9 L229.3 442.2 L230.2 442.5 L231.0 442.8 L231.9 443.1 L232.8 443.4 L233.6 443.7 L234.5 444.0 L235.4 444.3 L236.3 444.6 L237.1 444.9 L238.0 445.2 L238.9 445.4 L239.8 445.7 L240.6 446.0 L241.5 446.3 L242.4 446.6 L243.3 446.8 L244.1 447.1 L245.0 447.4 L245.9 447.7 L246.8 447.9 L247.6 448.2 L248.5 448.5 L249.4 448.7 L250.3 449.0 L251.1 449.3 L252.0 449.5 L252.9 449.8 L253.7 450.0 L254.6 450.3 L255.5 450.5 L256.4 450.8 L257.2 451.1 L258.1 451.3 L259.0 451.6 L259.9 451.8 L260.7 452.0 L261.6 452.3 L262.5 452.5 L263.4 452.8 L264.2 453.0 L265.1 453.2" fill="none" stroke="#52dc4c" stroke-width="1.25"/>
<circle cx="55.35" cy="7.7" r="2.25" fill="none" stroke="#000" stroke-width="1.2"/>
<circle cx="55.35" cy="8.1" r="2.25" fill="none" stroke="#000" stroke-width="1.2"/>
<circle cx="57.1" cy="15.8" r="2.25" fill="none" stroke="#000" stroke-width="1.2"/>
<circle cx="57.1" cy="23.3" r="2.25" fill="none" stroke="#000" stroke-width="1.2"/>
<circle cx="60.59" cy="40.4" r="2.25" fill="none" stroke="#000" stroke-width="1.2"/>
<circle cx="60.59" cy="44.1" r="2.25" fill="none" stroke="#000" stroke-width="1.2"/>
<circle cx="67.59" cy="59" r="2.25" fill="none" stroke="#000" stroke-width="1.2"/>
<circle cx="67.59" cy="59.8" r="2.25" fill="none" stroke="#000" stroke-width="1.2"/>
<circle cx="79.82" cy="72.7" r="2.25" fill="none" stroke="#000" stroke-width="1.2"/>
<circle cx="79.82" cy="81.7" r="2.25" fill="none" stroke="#000" stroke-width="1.2"/>
<circle cx="104.29" cy="86.5" r="2.25" fill="none" stroke="#000" stroke-width="1.2"/>
<circle cx="104.29" cy="93.9" r="2.25" fill="none" stroke="#000" stroke-width="1.2"/>
<circle cx="160.23" cy="109.2" r="2.25" fill="none" stroke="#000" stroke-width="1.2"/>
<circle cx="160.23" cy="109.6" r="2.25" fill="none" stroke="#000" stroke-width="1.2"/>
<circle cx="212.67" cy="112.7" r="2.25" fill="none" stroke="#000" stroke-width="1.2"/>
<circle cx="212.67" cy="118" r="2.25" fill="none" stroke="#000" stroke-width="1.2"/>
<circle cx="265.11" cy="113.8" r="2.25" fill="none" stroke="#000" stroke-width="1.2"/>
<circle cx="265.11" cy="121.5" r="2.25" fill="none" stroke="#000" stroke-width="1.2"/>
<circle cx="352.75" cy="21.5" r="2.25" fill="none" stroke="#000" stroke-width="1.2"/>
<circle cx="375.47" cy="29.6" r="2.25" fill="none" stroke="#000" stroke-width="1.2"/>
<circle cx="399.94" cy="29.6" r="2.25" fill="none" stroke="#000" stroke-width="1.2"/>
<circle cx="363.24" cy="47.1" r="2.25" fill="none" stroke="#000" stroke-width="1.2"/>
<circle cx="363.24" cy="55.9" r="2.25" fill="none" stroke="#000" stroke-width="1.2"/>
<circle cx="351" cy="66.9" r="2.25" fill="none" stroke="#000" stroke-width="1.2"/>
<circle cx="351" cy="70.5" r="2.25" fill="none" stroke="#000" stroke-width="1.2"/>
<circle cx="356.24" cy="67.2" r="2.25" fill="none" stroke="#000" stroke-width="1.2"/>
<circle cx="352.75" cy="86.1" r="2.25" fill="none" stroke="#000" stroke-width="1.2"/>
<circle cx="356.24" cy="96.5" r="2.25" fill="none" stroke="#000" stroke-width="1.2"/>
<circle cx="375.47" cy="110.1" r="2.25" fill="none" stroke="#000" stroke-width="1.2"/>
<circle cx="399.94" cy="92.9" r="2.25" fill="none" stroke="#000" stroke-width="1.2"/>
<circle cx="560.76" cy="16.8" r="2.25" fill="none" stroke="#000" stroke-width="1.2"/>
<circle cx="508.32" cy="42.3" r="2.25" fill="none" stroke="#000" stroke-width="1.2"/>
<circle cx="455.88" cy="75.5" r="2.25" fill="none" stroke="#000" stroke-width="1.2"/>
<circle cx="455.88" cy="80.6" r="2.25" fill="none" stroke="#000" stroke-width="1.2"/>
<circle cx="508.32" cy="88" r="2.25" fill="none" stroke="#000" stroke-width="1.2"/>
<circle cx="560.76" cy="84.6" r="2.25" fill="none" stroke="#000" stroke-width="1.2"/>
<polygon points="67.59,186.5 70.44,191.45 64.73,191.45" fill="none" stroke="#dc1428" stroke-width="1.3"/>
<polygon points="67.59,220.5 70.44,225.45 64.73,225.45" fill="none" stroke="#dc1428" stroke-width="1.3"/>
<polygon points="60.59,201 63.45,205.95 57.74,205.95" fill="none" stroke="#dc1428" stroke-width="1.3"/>
<polygon points="60.59,270.8 63.45,275.75 57.74,275.75" fill="none" stroke="#dc1428" stroke-width="1.3"/>
<polygon points="57.1,208.8 59.96,213.75 54.24,213.75" fill="none" stroke="#dc1428" stroke-width="1.3"/>
<polygon points="57.1,221.4 59.96,226.35 54.24,226.35" fill="none" stroke="#dc1428" stroke-width="1.3"/>
<polygon points="79.82,211.6 82.68,216.55 76.96,216.55" fill="none" stroke="#dc1428" stroke-width="1.3"/>
<polygon points="79.82,269.4 82.68,274.35 76.96,274.35" fill="none" stroke="#dc1428" stroke-width="1.3"/>
<polygon points="160.23,290.4 163.09,295.35 157.37,295.35" fill="none" stroke="#dc1428" stroke-width="1.3"/>
<polygon points="212.67,258.7 215.53,263.65 209.81,263.65" fill="none" stroke="#dc1428" stroke-width="1.3"/>
<polygon points="265.11,283.1 267.97,288.05 262.25,288.05" fill="none" stroke="#dc1428" stroke-width="1.3"/>
<polygon points="265.11,294 267.97,298.95 262.25,298.95" fill="none" stroke="#dc1428" stroke-width="1.3"/>
<polygon points="352.75,218.1 355.61,223.05 349.89,223.05" fill="none" stroke="#dc1428" stroke-width="1.3"/>
<polygon points="352.75,226.8 355.61,231.75 349.89,231.75" fill="none" stroke="#dc1428" stroke-width="1.3"/>
<polygon points="356.24,244.7 359.1,249.65 353.39,249.65" fill="none" stroke="#dc1428" stroke-width="1.3"/>
<polygon points="356.24,293.6 359.1,298.55 353.39,298.55" fill="none" stroke="#dc1428" stroke-width="1.3"/>
<polygon points="363.24,226.3 366.09,231.25 360.38,231.25" fill="none" stroke="#dc1428" stroke-width="1.3"/>
<polygon points="363.24,250.4 366.09,255.35 360.38,255.35" fill="none" stroke="#dc1428" stroke-width="1.3"/>
<polygon points="375.47,209.8 378.33,214.75 372.61,214.75" fill="none" stroke="#dc1428" stroke-width="1.3"/>
<polygon points="375.47,249.9 378.33,254.85 372.61,254.85" fill="none" stroke="#dc1428" stroke-width="1.3"/>
<polygon points="455.88,240.5 458.74,245.45 453.02,245.45" fill="none" stroke="#dc1428" stroke-width="1.3"/>
<polygon points="508.32,216 511.18,220.95 505.46,220.95" fill="none" stroke="#dc1428" stroke-width="1.3"/>
<polygon points="560.76,231.5 563.62,236.45 557.9,236.45" fill="none" stroke="#dc1428" stroke-width="1.3"/>
<polygon points="560.76,239.4 563.62,244.35 557.9,244.35" fill="none" stroke="#dc1428" stroke-width="1.3"/>
<path d="M76.52 372.1H83.12M79.82 368.8V375.4" stroke="#52dc4c" stroke-width="1.25" fill="none"/>
<path d="M76.52 402H83.12M79.82 398.7V405.3" stroke="#52dc4c" stroke-width="1.25" fill="none"/>
<path d="M100.99 394.7H107.59M104.29 391.4V398" stroke="#52dc4c" stroke-width="1.25" fill="none"/>
<path d="M100.99 403.4H107.59M104.29 400.1V406.7" stroke="#52dc4c" stroke-width="1.25" fill="none"/>
<path d="M64.29 421.2H70.89M67.59 417.9V424.5" stroke="#52dc4c" stroke-width="1.25" fill="none"/>
<path d="M64.29 427.4H70.89M67.59 424.1V430.7" stroke="#52dc4c" stroke-width="1.25" fill="none"/>
<path d="M57.29 468H63.89M60.59 464.7V471.3" stroke="#52dc4c" stroke-width="1.25" fill="none"/>
<path d="M57.29 477.2H63.89M60.59 473.9V480.5" stroke="#52dc4c" stroke-width="1.25" fill="none"/>
<path d="M53.8 480.4H60.4M57.1 477.1V483.7" stroke="#52dc4c" stroke-width="1.25" fill="none"/>
<path d="M156.93 413.6H163.53M160.23 410.3V416.9" stroke="#52dc4c" stroke-width="1.25" fill="none"/>
<path d="M156.93 420.7H163.53M160.23 417.4V424" stroke="#52dc4c" stroke-width="1.25" fill="none"/>
<path d="M209.37 432.6H215.97M212.67 429.3V435.9" stroke="#52dc4c" stroke-width="1.25" fill="none"/>
<path d="M209.37 434.2H215.97M212.67 430.9V437.5" stroke="#52dc4c" stroke-width="1.25" fill="none"/>
<path d="M261.81 429.3H268.41M265.11 426V432.6" stroke="#52dc4c" stroke-width="1.25" fill="none"/>
<path d="M261.81 466.7H268.41M265.11 463.4V470" stroke="#52dc4c" stroke-width="1.25" fill="none"/>
<path d="M372.17 385.4H378.77M375.47 382.1V388.7" stroke="#52dc4c" stroke-width="1.25" fill="none"/>
<path d="M359.94 414.3H366.54M363.24 411V417.6" stroke="#52dc4c" stroke-width="1.25" fill="none"/>
<path d="M349.45 424.2H356.05M352.75 420.9V427.5" stroke="#52dc4c" stroke-width="1.25" fill="none"/>
<path d="M359.94 426.5H366.54M363.24 423.2V429.8" stroke="#52dc4c" stroke-width="1.25" fill="none"/>
<path d="M352.94 431.1H359.54M356.24 427.8V434.4" stroke="#52dc4c" stroke-width="1.25" fill="none"/>
<path d="M372.17 441.5H378.77M375.47 438.2V444.8" stroke="#52dc4c" stroke-width="1.25" fill="none"/>
<path d="M352.94 448.2H359.54M356.24 444.9V451.5" stroke="#52dc4c" stroke-width="1.25" fill="none"/>
<path d="M396.64 439.2H403.24M399.94 435.9V442.5" stroke="#52dc4c" stroke-width="1.25" fill="none"/>
<path d="M396.64 456.5H403.24M399.94 453.2V459.8" stroke="#52dc4c" stroke-width="1.25" fill="none"/>
<path d="M557.46 381.6H564.06M560.76 378.3V384.9" stroke="#52dc4c" stroke-width="1.25" fill="none"/>
<path d="M505.02 423.3H511.62M508.32 420V426.6" stroke="#52dc4c" stroke-width="1.25" fill="none"/>
<path d="M505.02 425.5H511.62M508.32 422.2V428.8" stroke="#52dc4c" stroke-width="1.25" fill="none"/>
<path d="M452.58 430.8H459.18M455.88 427.5V434.1" stroke="#52dc4c" stroke-width="1.25" fill="none"/>
<path d="M452.58 444.6H459.18M455.88 441.3V447.9" stroke="#52dc4c" stroke-width="1.25" fill="none"/>
<path d="M557.46 453.4H564.06M560.76 450.1V456.7" stroke="#52dc4c" stroke-width="1.25" fill="none"/>
<rect x="203.7" y="9.5" width="61" height="21.5" fill="#fff" stroke="#000" stroke-width="1.2"/>
<line x1="206.2" y1="20.3" x2="223" y2="20.3" stroke="#000" stroke-width="1.1"/>
<circle cx="214.6" cy="20.3" r="2.25" fill="none" stroke="#000" stroke-width="1.2"/>
<g transform="translate(229,23.7)"><text x="0.00" y="0" font-size="11.5">parent</text></g>
<rect x="217.4" y="190.7" width="45.1" height="22.1" fill="#fff" stroke="#000" stroke-width="1.2"/>
<line x1="220.3" y1="201.7" x2="236.5" y2="201.7" stroke="#dc1428" stroke-width="1.1"/>
<polygon points="228.3,199 230.9,203.5 225.7,203.5" fill="none" stroke="#dc1428" stroke-width="1.3"/>
<g transform="translate(245.2,205.1)"><text x="0.00" y="0" font-size="11.5">M</text><path transform="translate(9.58,0) scale(0.00562,-0.00562)" d="M763 0H583V1147Q518 1085 410 1023Q307 961 213 926V1100Q381 1179 515 1300Q650 1420 704 1466H763Z" stroke="#000" stroke-width="53.4"/></g>
<rect x="217.4" y="373.9" width="45.1" height="21.9" fill="#fff" stroke="#000" stroke-width="1.2"/>
<line x1="220.3" y1="385" x2="236.5" y2="385" stroke="#52dc4c" stroke-width="1.1"/>
<path d="M225.1 385H231.7M228.4 381.7V388.3" stroke="#52dc4c" stroke-width="1.25" fill="none"/>
<g transform="translate(245.2,388.4)"><text x="0.00" y="0" font-size="11.5">M2</text></g>
</svg></body></html>
